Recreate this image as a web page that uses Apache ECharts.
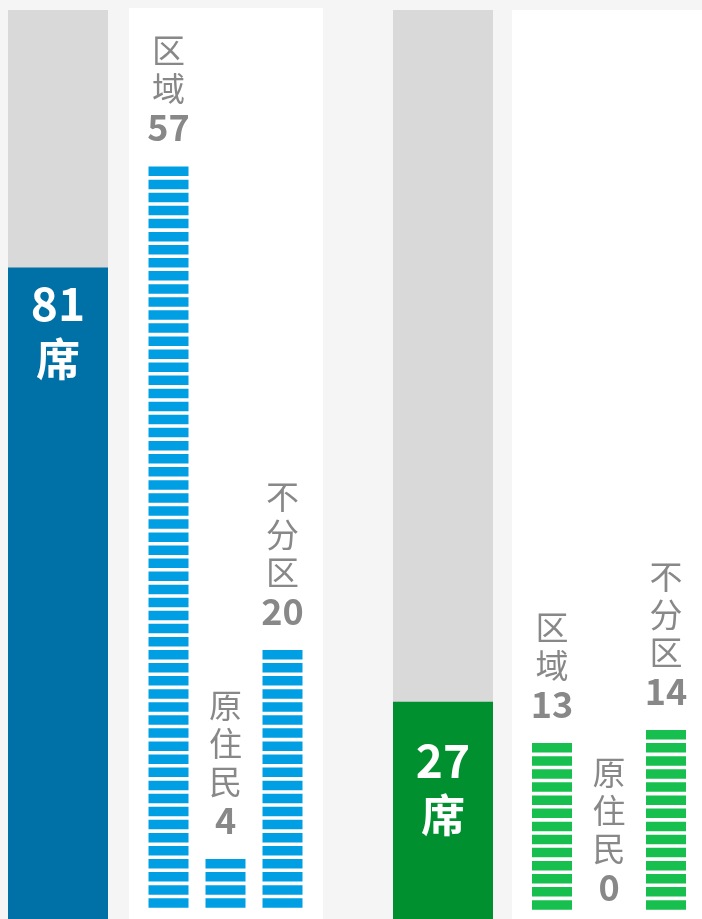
<!DOCTYPE html>
<html>
<head>
<meta charset="utf-8">
<script src="https://cdn.jsdelivr.net/npm/echarts@6/dist/echarts.min.js"></script>
<style>
  html, body { margin: 0; padding: 0; background: #f5f5f5; }
  #chart { width: 702px; height: 919px; }
</style>
</head>
<body>
<div id="chart"></div>
<script>
// total seats in the chamber
let totalSeats = 113;
// two parties: seat totals
let partyNames = ['A', 'B'];
let partySeats = [81, 27];
// breakdown per party
let typeNames = ['区域', '原住民', '不分区'];
let seatsA = [57, 4, 20];
let seatsB = [13, 0, 14];

let color = {
    bg: '#f5f5f5',
    rest: '#d9d9d9',
    darkA: '#0071a6',
    lightA: '#009fe3',
    darkB: '#00902f',
    lightB: '#17c04e',
    text: '#888888'
};

// vertical label: one char per line, number bold under it
const vLabel = (name, v) => name.split('').map(c => '{n|' + c + '}').join('\n') + '\n{v|' + v + '}';

const bigGrid = (left, bottom) => ({ left: left, width: 100, top: 10, bottom: bottom });
const panelGrid = (left, top) => ({
    left: left, right: left > 400 ? -20 : null, width: left > 400 ? null : 194,
    top: top, bottom: 0, show: true, backgroundColor: '#fff', borderWidth: 0
});
const barGrid = (left, bottom) => ({ left: left, width: 171, top: 8, bottom: bottom });

let grids = [
    bigGrid(8, -3), panelGrid(129, 8), barGrid(140, 9.5),
    bigGrid(393, -5), panelGrid(512, 10), barGrid(523.5, 7.5)
];

let xAxis = [], yAxis = [];
grids.forEach((g, i) => {
    let kind = i % 3;
    xAxis.push({
        type: 'category', gridIndex: i, show: false,
        data: kind === 2 ? typeNames : (kind === 0 ? [partyNames[Math.floor(i / 3)]] : ['x'])
    });
    yAxis.push({
        type: 'value', gridIndex: i, show: false, min: 0,
        max: kind === 0 ? totalSeats : 69
    });
});

const bigSeries = (gi, v, dark, dist) => ({
    type: 'bar',
    xAxisIndex: gi, yAxisIndex: gi,
    barWidth: '100%',
    showBackground: true,
    backgroundStyle: { color: color.rest },
    itemStyle: { color: dark },
    label: {
        show: true,
        position: 'insideTop',
        distance: dist,
        formatter: p => '{v|' + p.value + '}\n{s|席}',
        rich: {
            v: { color: '#fff', fontSize: 46, fontWeight: 'bold', lineHeight: 55, fontFamily: 'Noto Sans CJK SC' },
            s: { color: '#fff', fontSize: 44, fontWeight: 'bold', lineHeight: 55, fontFamily: 'Noto Sans CJK SC' }
        }
    },
    data: [v],
    animation: false
});

// one rect per seat, stacked with a small gap
const pictSeries = (gi, arr, light) => ({
    type: 'pictorialBar',
    xAxisIndex: gi, yAxisIndex: gi,
    symbol: 'rect',
    symbolMargin: '1!',
    symbolPosition: 'start',
    itemStyle: { color: light },
    label: {
        show: true,
        position: 'top',
        distance: 17,
        formatter: p => vLabel(typeNames[p.dataIndex], p.value),
        rich: {
            n: { color: color.text, fontSize: 33, lineHeight: 38, fontFamily: 'Noto Sans CJK SC' },
            v: { color: color.text, fontSize: 36, fontWeight: 'bold', lineHeight: 40, fontFamily: 'Noto Sans CJK SC' }
        }
    },
    data: arr.map(v => v > 0
        ? { value: v, symbolRepeat: v, symbolBoundingData: v, symbolSize: [40, 9.5] }
        : { value: v, symbolSize: [0, 0], label: { distance: 4 } }),
    animation: false
});

let option = {
    backgroundColor: color.bg,
    grid: grids,
    xAxis: xAxis,
    yAxis: yAxis,
    series: [
        bigSeries(0, partySeats[0], color.darkA, 9),
        pictSeries(2, seatsA, color.lightA),
        bigSeries(3, partySeats[1], color.darkB, 31),
        pictSeries(5, seatsB, color.lightB)
    ]
};

var myChart = echarts.init(document.getElementById('chart'));
myChart.setOption(option);
window.addEventListener('resize', function () {
    myChart.resize();
});
</script>
</body>
</html>
